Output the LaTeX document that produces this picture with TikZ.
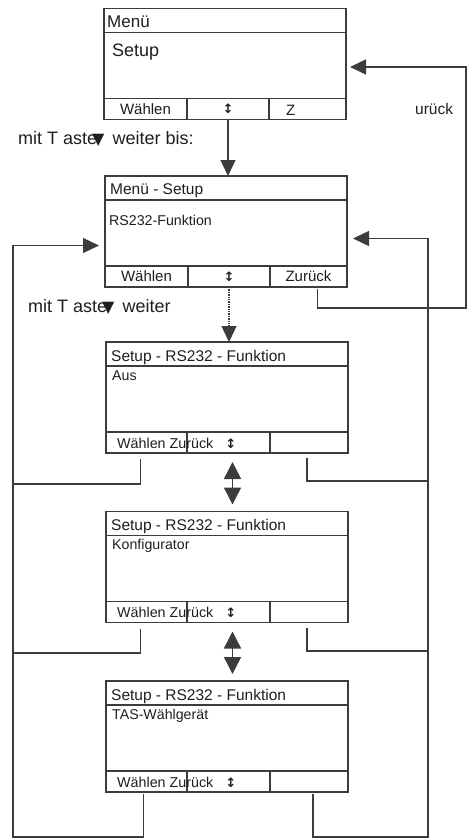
\documentclass[tikz,border=0pt]{standalone}
\usepackage{fontspec}
\setmainfont{Liberation Sans}
\newfontfamily\symfont{DejaVu Sans}
\usepackage{tikz}
\usetikzlibrary{calc,arrows.meta}
\definecolor{linegray}{HTML}{3C3C3C}
\definecolor{textgray}{HTML}{1E1E1E}
\newcommand{\updown}{{\symfont\bfseries\fontsize{13}{13}\selectfont ↕}}
\newcommand{\downkey}{\kern-5pt{\symfont\fontsize{16}{16}\selectfont ▼}\hspace{8pt}}
\tikzstyle{screen} = [rectangle, draw=linegray, line width=1.5pt, minimum width=242pt, minimum height=111pt, inner sep=0pt, outer sep=0pt]
\tikzstyle{cell} = [rectangle, draw=linegray, line width=1.5pt, minimum height=21pt, inner sep=0pt, outer sep=0pt, text=textgray, font=\fontsize{15}{18}\selectfont]
\tikzstyle{separator} = [draw=linegray, line width=1.5pt]
\tikzstyle{titletext} = [anchor=base west, inner sep=0pt, text=textgray, font=\fontsize{15.5}{18}\selectfont]
\tikzstyle{bodytext} = [anchor=base west, inner sep=0pt, text=textgray, font=\fontsize{14.2}{17}\selectfont]
\tikzstyle{keytext} = [anchor=base west, inner sep=0pt, text=textgray, font=\fontsize{14.3}{17}\selectfont]
\tikzstyle{hinttext} = [anchor=base west, inner sep=0pt, text=textgray, font=\fontsize{18}{21}\selectfont]
\tikzstyle{connector} = [draw=linegray, line width=1.4pt, -{Triangle[length=16pt, width=15pt]}]
\tikzstyle{link} = [draw=linegray, line width=1.4pt]
\tikzstyle{toggle} = [draw=linegray, line width=1.4pt, {Triangle[length=17pt, width=17pt]}-{Triangle[length=17pt, width=17pt]}, shorten <=9pt, shorten >=7pt]

\begin{document}
\begin{tikzpicture}[x=1pt, y=-1pt]
        \useasboundingbox (0,0) rectangle (470,840);
        % Menü
        \node (menu) [screen] at (225,64) {};
        \node (menuT) [titletext, font=\fontsize{17}{20}\selectfont] at ($(menu.north west)+(3,19)$) {Menü};
        \draw [separator] ($(menu.north west)+(0,24)$) -- ($(menu.north east)+(0,24)$);
        \node (menuB) [titletext, font=\fontsize{18}{21}\selectfont] at ($(menu.north west)+(8,48)$) {Setup};
        \node (menuL) [cell, minimum width=83pt, anchor=south west] at (menu.south west) {Wählen};
        \node (menuM) [cell, minimum width=82pt, anchor=west] at (menuL.east) {\updown};
        \node (menuR) [cell, minimum width=77pt, anchor=west] at (menuM.east) {};
        \node (menuZ) [keytext, font=\fontsize{15}{18}\selectfont] at ($(menuR.south west)+(17,-4)$) {Z};
        % Menü - Setup
        \node (setup) [screen] at (226,231.5) {};
        \node (setupT) [titletext] at ($(setup.north west)+(5,18)$) {Menü - Setup};
        \draw [separator] ($(setup.north west)+(0,24)$) -- ($(setup.north east)+(0,24)$);
        \node (setupB) [bodytext] at ($(setup.north west)+(4,49)$) {RS232-Funktion};
        \node (setupL) [cell, minimum width=83pt, anchor=south west] at (setup.south west) {Wählen};
        \node (setupM) [cell, minimum width=82pt, anchor=west] at (setupL.east) {\updown};
        \node (setupR) [cell, minimum width=77pt, anchor=west] at (setupM.east) {Zurück};
        % Setup - RS232 - Funktion
        \foreach \name/\ypos/\entry in {aus/397.5/Aus, konf/567/Konfigurator, tas/736.5/TAS-Wählgerät}{
            \node (\name) [screen] at (227,\ypos) {};
            \node (\name T) [titletext] at ($(\name.north west)+(5,19)$) {Setup - RS232 - Funktion};
            \draw [separator] ($(\name.north west)+(0,24)$) -- ($(\name.north east)+(0,24)$);
            \node (\name B) [bodytext] at ($(\name.north west)+(6,38)$) {\entry};
            \node (\name L) [cell, minimum width=81pt, anchor=south west] at (\name.south west) {};
            \node (\name M) [cell, minimum width=83pt, anchor=west] at (\name L.east) {};
            \node (\name R) [cell, minimum width=78pt, anchor=west] at (\name M.east) {};
            \node (\name K) [keytext] at ($(\name.south west)+(11,-5)$) {Wählen Zurück\hspace{12pt}\updown};
        }
        % hints
        \node (hintA) [hinttext] at (18,144) {mit T aste\downkey weiter bis:};
        \node (hintB) [hinttext] at (28,312) {mit T aste\downkey weiter};
        \node (back) [titletext] at (415,115) {urück};
        % corners of the loops
        \coordinate (backR) at (466,308);
        \coordinate (leftB) at (13,837);
        \coordinate (leftA) at (13,484);
        \coordinate (leftK) at (13,653);
        \coordinate (rightB) at (428,837);
        \coordinate (rightA) at (428,481);
        \coordinate (rightK) at (428,651);
        % connectors
        \draw [connector] (menuM.south) -- (menuM.south |- setup.north);
        \draw [connector, densely dotted] (setupM.south) -- (setupM.south |- aus.north);
        \draw [connector] ([xshift=9pt,yshift=-2pt]setupR.south) |- (backR) |- ([xshift=4pt,yshift=-3pt]menu.east);
        \draw [connector] ([xshift=-3pt,yshift=-2pt]tasL.south) |- (leftB) |- ([xshift=-6pt,yshift=-14pt]setup.west);
        \draw [link] ([xshift=-6pt,yshift=-6pt]ausL.south) |- (leftA);
        \draw [link] ([xshift=-6pt,yshift=-6pt]konfL.south) |- (leftK);
        \draw [connector] ([xshift=4pt,yshift=-2pt]tasR.south) |- (rightB) |- ([xshift=6pt,yshift=-7pt]setup.east);
        \draw [link] ([xshift=-2pt,yshift=-5pt]ausR.south) |- (rightA);
        \draw [link] ([xshift=-2pt,yshift=-5pt]konfR.south) |- (rightK);
        \draw [toggle] ([xshift=4pt]ausM.south) -- ([xshift=4pt]ausM.south |- konf.north);
        \draw [toggle] ([xshift=4pt]konfM.south) -- ([xshift=4pt]konfM.south |- tas.north);
    \end{tikzpicture}
\end{document}
